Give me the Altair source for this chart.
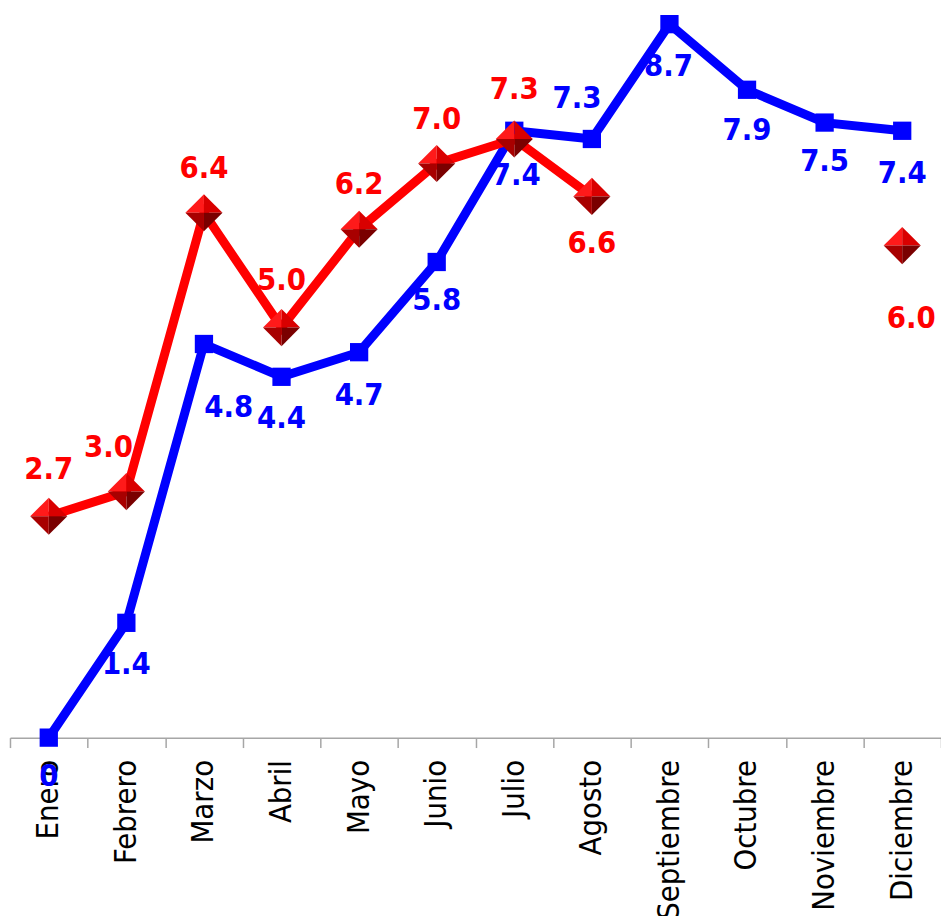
import altair as alt
import pandas as pd

months = ["Enero", "Febrero", "Marzo", "Abril", "Mayo", "Junio", "Julio",
          "Agosto", "Septiembre", "Octubre", "Noviembre", "Diciembre"]
blue_values = [0.0, 1.4, 4.8, 4.4, 4.7, 5.8, 7.4, 7.3, 8.7, 7.9, 7.5, 7.4]
red_values = [2.7, 3.0, 6.4, 5.0, 6.2, 7.0, 7.3, 6.6, None, None, None, 6.0]
blue_labels = ["0", "1.4", "4.8", "4.4", "4.7", "5.8", "7.4", "7.3", "8.7", "7.9", "7.5", "7.4"]
red_labels = ["2.7", "3.0", "6.4", "5.0", "6.2", "7.0", "7.3", "6.6", "", "", "", "6.0"]

# label offsets in pixels (style only)
blue_dx = [0, 0, 25, 0, 0, 0, 2, -15, -1, 0, 0, 0]
blue_dy = [40, 43, 65, 43, 44, 39, 46, -40, 43, 42, 40, 44]
red_dx = [0, -18, 0, 0, 0, 0, 0, 0, 0, 0, 0, 9]
red_dy = [-47, -44, -44, -47, -44, -44, -49, 48, 0, 0, 0, 74]

BLUE = "#0000ff"
RED = "#ff0000"
FONT = "DejaVu Sans Condensed"

rows = []
for i, m in enumerate(months):
    rows.append({"month": m, "series": "azul", "value": blue_values[i], "label": blue_labels[i], "i": i})
    rows.append({"month": m, "series": "rojo", "value": red_values[i], "label": red_labels[i], "i": i})
df = pd.DataFrame(rows)

xenc = alt.X(
    "month:N", sort=months, bandPosition=0.5,
    scale=alt.Scale(type="band", domain=months, paddingInner=0, paddingOuter=0),
    axis=alt.Axis(
        title=None, labelAngle=270, labelAlign="right", labelBaseline="middle",
        labelFont=FONT, labelFontSize=31, labelColor="black", labelPadding=12,
        labelLimit=400, tickBand="extent", tickSize=10, tickColor="#a6a6a6",
        tickWidth=1.5, domainColor="#a6a6a6", domainWidth=1.5, grid=False,
    ),
)
yenc = alt.Y("value:Q", scale=alt.Scale(domain=[0, 8.85]), axis=None)

base = alt.Chart(df)
blue = base.transform_filter(alt.datum.series == "azul")
red = base.transform_filter(alt.datum.series == "rojo")

blue_line = blue.mark_line(color=BLUE, strokeWidth=9, invalid="break-paths-filter-domains").encode(x=xenc, y=yenc)
blue_pts = blue.mark_point(shape="square", filled=True, size=340, color=BLUE, opacity=1).encode(x=xenc, y=yenc)

red_line = red.mark_line(color=RED, strokeWidth=9, invalid="break-paths-filter-domains").encode(x=xenc, y=yenc)
red_valid = red.transform_filter("isValid(datum.value)")

quads = [
    ("M -1 0 L 0 -1 L 0 0 Z", "#ff1a1a"),
    ("M 0 -1 L 1 0 L 0 0 Z", "#d90000"),
    ("M 1 0 L 0 1 L 0 0 Z", "#7a0000"),
    ("M 0 1 L -1 0 L 0 0 Z", "#a80000"),
]
red_pts = [
    red_valid.mark_point(shape=p, filled=True, size=1400, color=c, opacity=1, strokeWidth=0).encode(x=xenc, y=yenc)
    for p, c in quads
]

texts = []
for i in range(len(months)):
    texts.append(
        blue.transform_filter(alt.datum.i == i).mark_text(
            font=FONT, fontSize=31, fontWeight="bold", color=BLUE,
            dx=blue_dx[i], dy=blue_dy[i], baseline="middle", align="center",
        ).encode(x=xenc, y=yenc, text="label:N")
    )
    if red_labels[i]:
        texts.append(
            red.transform_filter(alt.datum.i == i).mark_text(
                font=FONT, fontSize=31, fontWeight="bold", color=RED,
                dx=red_dx[i], dy=red_dy[i], baseline="middle", align="center",
            ).encode(x=xenc, y=yenc, text="label:N")
        )

chart = alt.layer(
    blue_line, blue_pts, red_line, *red_pts, *texts
).properties(
    width=939, height=732,
    autosize=alt.AutoSizeParams(type="none"),
    padding={"left": 2, "top": 0, "right": 0, "bottom": 176},
    background="white",
).configure_view(stroke=None)

chart.save("out.html", embed_options={"renderer": "svg", "actions": False})
